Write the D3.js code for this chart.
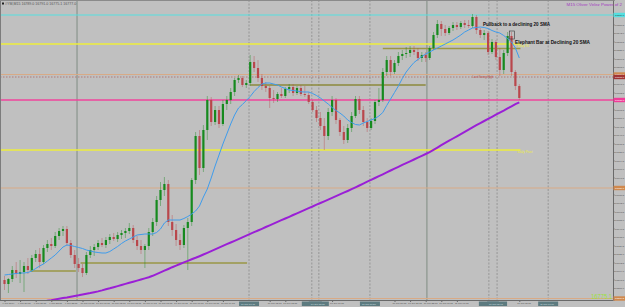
<!DOCTYPE html>
<html>
<head>
<meta charset="utf-8">
<script src="https://cdnjs.cloudflare.com/ajax/libs/d3/7.8.5/d3.min.js"></script>
<style>
  html, body { margin: 0; padding: 0; background: #c0c0c0; }
  svg { display: block; font-family: "Liberation Sans", Arial, sans-serif; }
</style>
</head>
<body>
<svg id="chart" width="625" height="307"></svg>
<script>
// ===== DATA (M15 bars) =====
const barOpen = [
  16595,16591,16596,16605,16601,16603,16609,16605,16617,16621,
  16613,16627,16631,16629,16639,16644,16646,16632,16620,16611,
  16607,16602,16620,16625,16628,16632,16630,16635,16638,16636,
  16640,16642,16644,16647,16635,16629,16625,16629,16643,16653,
  16675,16685,16691,16653,16645,16635,16630,16647,16653,16695,
  16739,16707,16745,16775,16753,16765,16751,16771,16775,16783,
  16795,16797,16790,16792,16813,16807,16797,16789,16787,16777,
  16776,16781,16779,16786,16788,16782,16787,16781,16780,16773,
  16765,16757,16749,16739,16763,16775,16755,16743,16735,16747,
  16759,16776,16765,16753,16747,16754,16773,16775,16803,16815,
  16803,16812,16819,16821,16822,16825,16823,16817,16820,16817,
  16827,16840,16851,16846,16842,16847,16850,16848,16852,16850,
  16849,16858,16845,16840,16842,16823,16833,16818,16805,16822,
  16839,16803,16789
];
const barHigh = [
  16599,16597,16609,16613,16615,16613,16617,16620,16625,16627,
  16630,16635,16637,16643,16647,16649,16649,16635,16625,16617,
  16611,16623,16629,16631,16635,16637,16638,16641,16642,16643,
  16645,16647,16652,16650,16639,16635,16631,16647,16657,16679,
  16693,16698,16695,16660,16651,16641,16650,16657,16697,16743,
  16745,16750,16779,16778,16769,16769,16775,16779,16787,16797,
  16800,16799,16795,16820,16819,16815,16801,16793,16789,16785,
  16783,16787,16788,16791,16791,16789,16790,16789,16783,16775,
  16769,16763,16757,16767,16779,16777,16757,16749,16751,16763,
  16779,16779,16769,16757,16757,16775,16787,16807,16819,16819,
  16815,16823,16825,16828,16829,16829,16827,16823,16823,16829,
  16843,16855,16854,16850,16849,16853,16853,16854,16855,16855,
  16861,16860,16847,16845,16844,16836,16835,16827,16825,16843,
  16843,16805,16791
];
const barLow = [
  16585,16582,16593,16597,16592,16583,16601,16603,16613,16607,
  16611,16623,16625,16627,16635,16639,16629,16617,16607,16603,
  16598,16600,16617,16619,16625,16628,16627,16631,16634,16633,
  16636,16637,16641,16632,16625,16621,16607,16625,16639,16649,
  16669,16679,16649,16639,16629,16625,16627,16605,16649,16691,
  16700,16703,16735,16749,16750,16747,16749,16765,16771,16779,
  16792,16788,16787,16789,16803,16793,16785,16783,16767,16772,
  16773,16777,16777,16782,16779,16780,16779,16778,16771,16763,
  16753,16745,16725,16735,16759,16751,16739,16731,16732,16743,
  16757,16761,16749,16743,16745,16751,16769,16773,16799,16799,
  16801,16809,16815,16817,16818,16820,16814,16813,16813,16815,
  16825,16837,16839,16839,16840,16844,16845,16846,16847,16847,
  16847,16841,16837,16835,16820,16821,16815,16799,16801,16819,
  16799,16785,16775
];
const barClose = [
  16591,16596,16605,16601,16603,16609,16605,16617,16621,16613,
  16627,16631,16629,16639,16644,16646,16632,16620,16611,16607,
  16602,16620,16625,16628,16632,16630,16635,16638,16636,16640,
  16642,16644,16647,16635,16629,16625,16629,16643,16653,16675,
  16685,16691,16653,16645,16635,16630,16647,16653,16695,16739,
  16707,16745,16775,16753,16765,16751,16771,16775,16783,16795,
  16797,16790,16792,16813,16807,16797,16789,16787,16777,16776,
  16781,16779,16786,16788,16782,16787,16781,16780,16773,16765,
  16757,16749,16739,16763,16775,16755,16743,16735,16747,16759,
  16776,16765,16753,16747,16754,16773,16775,16803,16815,16803,
  16812,16819,16821,16822,16825,16823,16817,16820,16817,16827,
  16840,16851,16846,16842,16847,16850,16848,16852,16850,16849,
  16858,16845,16840,16842,16823,16833,16818,16805,16822,16839,
  16803,16789,16777
];
// 20 SMA (blue) and 200 SMA (purple), one value per bar
const sma20 = [
  16600,16600.5,16601,16601.5,16602,16602,16602.5,16604,16606.5,16609,
  16611,16614,16617,16620,16624,16628,16630,16629.5,16628.5,16627.5,
  16626.5,16625,16624,16623,16622.5,16622,16622,16623.5,16626,16628.5,
  16631.5,16634,16636,16638,16640,16640.5,16641,16641,16641,16642.5,
  16646,16652,16655,16655,16655,16655,16656.5,16658.5,16661,16664,
  16669,16678,16686,16697,16709,16720,16731,16741,16751,16760,
  16767,16770.5,16774.5,16778.5,16783.5,16787.5,16791,16792,16792,16791,
  16790,16788,16786.5,16785,16784.5,16784,16783.2,16783,16783,16781.5,
  16779.5,16777,16774,16771,16767.5,16764.5,16762,16759,16755,16752.5,
  16750.5,16750,16752,16753.5,16755,16756.5,16759,16762.5,16769.5,16776,
  16782.5,16789,16796.5,16803,16808,16812.5,16815.5,16818.5,16821,16823,
  16825,16827,16829,16831,16833,16835,16837.5,16840,16843,16845,
  16847,16847.5,16848,16847.5,16846.5,16844.5,16843,16842,16839.5,16836.5,
  16833,16827,16817
];
const sma200 = [
  16563,16564,16565,16566,16567,16568,16569,16570,16571,16572,
  16573,16574.3,16574.8,16575.6,16576.3,16577,16577.6,16578.3,16579,16579.7,
  16580.5,16581.3,16582,16582.8,16583.6,16584.6,16585.7,16586.7,16587.8,16588.9,
  16590,16591.1,16592.2,16593.3,16594.4,16595.5,16596.6,16597.7,16599.2,16600.9,
  16602.6,16604.3,16606,16607.8,16609.4,16611,16612.6,16614.1,16615.7,16617.2,
  16618.8,16620.5,16622.2,16623.9,16625.6,16627.4,16629.1,16630.8,16632.5,16634.2,
  16635.9,16637.7,16639.4,16641.1,16642.8,16644.5,16646.2,16648,16649.7,16651.4,
  16653.1,16654.8,16656.5,16658.2,16660,16661.7,16663.4,16665.1,16666.8,16668.5,
  16670.3,16672,16673.7,16675.4,16677.1,16678.8,16680.6,16682.3,16684,16685.8,
  16687.6,16689.5,16691.4,16693.3,16695.1,16697,16698.9,16700.7,16702.6,16704.5,
  16706.4,16708.2,16710.1,16711.9,16713.7,16715.5,16717.4,16719.2,16721,16722.8,
  16725.1,16727.4,16729.8,16732.1,16734.3,16736.5,16738.7,16740.9,16743.1,16745.3,
  16747.7,16749.8,16751.9,16754,16756.1,16758.2,16760.3,16762.4,16764.4,16766.6,
  16768.7,16770.8,16772.6
];

// price scale labels
const priceTicks = [
  16859.0,16850.5,16842.0,16833.5,16825.0,16816.5,16808.0,16799.5,16791.0,16782.5,
  16774.0,16765.5,16757.0,16748.5,16740.0,16731.5,16723.0,16714.5,16706.0,16697.5,
  16689.0,16680.5,16672.0,16663.5,16655.0,16646.5,16638.0,16629.5,16621.0,16612.5,
  16604.0,16595.5,16587.0,16578.5
];
// time scale labels (bar index + text)
const timeLabelBars = [
  0,4,8,12,16,20,24,28,32,36,40,44,48,52,56,60,64,
  68,72,76,80,84,88,92,96,100,104,108,112,116,120,124,128,132
];
const timeLabels = [
  '9 Jun 2014','9 Jun 20:15','9 Jun 21:15','9 Jun 22:15','9 Jun 23:15','10 Jun 00:15',
  '10 Jun 01:15','10 Jun 02:15','10 Jun 03:15','10 Jun 04:15','10 Jun 05:15','10 Jun 06:15',
  '10 Jun 07:15','10 Jun 08:15','10 Jun 09:15','10 Jun 10:15','10 Jun 11:15','10 Jun 12:15',
  '10 Jun 13:15','10 Jun 14:15','10 Jun 15:15','10 Jun 16:15','10 Jun 17:15','10 Jun 18:15',
  '10 Jun 19:15','10 Jun 20:15','10 Jun 21:15','10 Jun 22:15','11 Jun 00:15','11 Jun 01:15',
  '11 Jun 02:15','11 Jun 03:15','11 Jun 04:15','11 Jun 05:15'
];

// day separators and session lines (bar index)
const daySeparatorBars = [18.6, 108.3];
const sessionLineBars = [62.7, 78.8, 80.6, 93.7, 124.2, 126.3, 139.4];
const sessionLineLabels = ['10 Jun 10:45','10 Jun 14:45','10 Jun 15:15','10 Jun 18:30',
  '11 Jun 03:15','11 Jun 03:45','11 Jun 07:00'];

// horizontal levels: price, first bar, last bar (null = whole chart)
const levelNames = ['cyan','yellowHigh','oliveHigh','tan','tanDotted','oliveMid',
  'pink','yellowLow','orange','oliveLow','oliveLeft','orangeLow'];
const levelPrices = [16860, 16831, 16826.5, 16800.5, 16798, 16790,
  16775, 16725, 16687, 16612, 16604, 16576.5];
const levelFromBar = [null, null, 97, null, null, 63, null, null, null, 19.5, 6.5, null];
const levelToBar = [null, 132.3, 132.3, null, null, 108, null, 132.3, null, 62.2, 18.3, null];
const levelTags = ['', 'Daily R1', '', '', '', '', '', 'Daily Pivot', '', '', '', ''];

// notes written on the chart
const noteTexts = ['Pullback to a declining 20 SMA', 'Elephant Bar at Declining 20 SMA'];
const noteBars = [122.7, 130.9];
const notePrices = [16849.3, 16831.5];
const elephantBar = 130;
const lastSwingText = 'Last Swing High';
const lastQuote = '16775.1';
const symbolTitle = '#YM,M15  16789.0 16791.0 16775.1 16777.0';
const indicatorTitle = 'M15 Oliver Velez Power of 2';

// ===== STYLE =====
const W = 625, H = 307;
const plotRight = 613, plotBottom = 300;
const upColor = '#168a1e', downColor = '#b9474c';
const levelStyle = {
  cyan:       { color: '#55dfe0', width: 1.1, axis: '#55dfe0' },
  yellowHigh: { color: '#eeee3c', width: 1.4 },
  oliveHigh:  { color: '#9a9746', width: 1.4 },
  tan:        { color: '#d8aa86', width: 1, axis: '#d0894e' },
  tanDotted:  { color: '#b06868', width: 0.8, dash: '1.5,1.5', axis: '#a23434' },
  oliveMid:   { color: '#8d8a3c', width: 1.4 },
  pink:       { color: '#f0459c', width: 1.3, axis: '#f03c98' },
  yellowLow:  { color: '#eeee3c', width: 1.4 },
  orange:     { color: '#d8aa86', width: 1, axis: '#d0894e' },
  oliveLow:   { color: '#9a9746', width: 1.4 },
  oliveLeft:  { color: '#9a9746', width: 1.4 },
  orangeLow:  { color: '#d8aa86', width: 1, axis: '#d0894e' }
};
const priceFont = 2.5, timeFont = 2.4;

// ===== SCALES =====
const x = d3.scaleLinear().domain([0, 132]).range([4.5, 519.3]);
const y = d3.scaleLinear().domain([16875, 16575]).range([0, plotBottom]);
const bars = d3.range(barOpen.length);

const svg = d3.select('#chart');
svg.append('rect').attr('width', W).attr('height', H).attr('fill', '#c0c0c0');
svg.append('defs').append('clipPath').attr('id', 'plot')
  .append('rect').attr('x', 1).attr('y', 1).attr('width', plotRight - 1).attr('height', plotBottom - 1);
const plot = svg.append('g').attr('clip-path', 'url(#plot)');

// Draw vertical separators
plot.selectAll('line.day').data(daySeparatorBars).join('line')
  .attr('class', 'day')
  .attr('x1', d => x(d)).attr('x2', d => x(d))
  .attr('y1', 0).attr('y2', plotBottom)
  .attr('stroke', '#98a09a').attr('stroke-width', 1.6);
plot.selectAll('line.session').data(sessionLineBars).join('line')
  .attr('class', 'session')
  .attr('x1', d => x(d)).attr('x2', d => x(d))
  .attr('y1', 0).attr('y2', plotBottom)
  .attr('stroke', '#8c8c8c').attr('stroke-width', 0.8)
  .attr('stroke-dasharray', '2,1.5');

// Draw horizontal levels
levelNames.forEach((name, i) => {
  const st = levelStyle[name];
  const x1 = levelFromBar[i] === null ? 0 : x(levelFromBar[i]);
  const x2 = levelToBar[i] === null ? plotRight : x(levelToBar[i]);
  plot.append('line')
    .attr('x1', x1).attr('x2', x2)
    .attr('y1', y(levelPrices[i])).attr('y2', y(levelPrices[i]))
    .attr('stroke', st.color).attr('stroke-width', st.width)
    .attr('stroke-dasharray', st.dash || null);
  if (levelTags[i]) {
    plot.append('text')
      .attr('x', x2 - 3).attr('y', y(levelPrices[i]) + 3.2)
      .attr('font-size', 3.2).attr('fill', st.color)
      .text(levelTags[i]);
  }
});

// Draw candles
const candles = plot.append('g');
candles.selectAll('line').data(bars).join('line')
  .attr('x1', i => x(i)).attr('x2', i => x(i))
  .attr('y1', i => y(barHigh[i])).attr('y2', i => y(barLow[i]))
  .attr('stroke', i => barClose[i] >= barOpen[i] ? upColor : downColor)
  .attr('stroke-width', 0.6).attr('stroke-opacity', 0.7);
candles.selectAll('rect').data(bars).join('rect')
  .attr('x', i => x(i) - 1.1).attr('width', 2.2)
  .attr('y', i => y(Math.max(barOpen[i], barClose[i])))
  .attr('height', i => Math.max(0.8, Math.abs(y(barOpen[i]) - y(barClose[i]))))
  .attr('fill', i => barClose[i] >= barOpen[i] ? upColor : downColor);

// Draw moving averages
const maLine = d3.line().x((d, i) => x(i)).y(d => y(d));
plot.append('path').datum(sma200).attr('d', maLine)
  .attr('fill', 'none').attr('stroke', '#9a1fd6').attr('stroke-width', 2);
plot.append('path').datum(sma20).attr('d', maLine)
  .attr('fill', 'none').attr('stroke', '#3f9cec').attr('stroke-width', 1);

// Notes
plot.selectAll('text.note').data(noteTexts).join('text')
  .attr('class', 'note')
  .attr('x', (d, i) => x(noteBars[i])).attr('y', (d, i) => y(notePrices[i]))
  .attr('font-size', 5).attr('font-weight', 700).attr('fill', '#111')
  .attr('textLength', (d, i) => i === 0 ? 67 : 75).attr('lengthAdjust', 'spacingAndGlyphs')
  .text(d => d);
plot.append('rect')
  .attr('x', x(elephantBar) - 2.2).attr('width', 5)
  .attr('y', y(barHigh[elephantBar]) - 1).attr('height', 8)
  .attr('fill', 'none').attr('stroke', '#333').attr('stroke-width', 0.6);
plot.append('text')
  .attr('x', x(120)).attr('y', y(16797))
  .attr('font-size', 2.9).attr('fill', '#b84a4a')
  .text(lastSwingText);

// Frame
svg.append('line').attr('x1', 0.5).attr('x2', 0.5).attr('y1', 0).attr('y2', plotBottom)
  .attr('stroke', '#7c7c7c');
svg.append('line').attr('x1', 0).attr('x2', plotRight).attr('y1', 0.5).attr('y2', 0.5)
  .attr('stroke', '#8a8a8a');

// Price axis (tags of the levels hide the plain labels under them)
const tagPrices = levelNames.filter(n => levelStyle[n].axis).map(n => levelPrices[levelNames.indexOf(n)]);
const shownTicks = priceTicks.filter(p => tagPrices.every(t => Math.abs(y(t) - y(p)) > 4.4));
const yAxis = svg.append('g')
  .attr('transform', `translate(${plotRight},0)`)
  .call(d3.axisRight(y).tickValues(shownTicks).tickSize(1.5).tickPadding(0.6)
    .tickFormat(d3.format('.1f')));
yAxis.attr('font-size', priceFont).attr('font-family', null);
yAxis.select('.domain').attr('stroke', '#6a6a6a');
yAxis.selectAll('.tick line').attr('stroke', '#6a6a6a');
yAxis.selectAll('.tick text').attr('fill', '#4e4e4e');

// coloured price tags on the axis
levelNames.forEach((name, i) => {
  const st = levelStyle[name];
  if (!st.axis) return;
  const yy = y(levelPrices[i]);
  svg.append('rect').attr('x', plotRight + 0.5).attr('y', yy - 2.2)
    .attr('width', 11.5).attr('height', 4.4).attr('fill', st.axis);
  svg.append('text').attr('x', plotRight + 2).attr('y', yy + 0.9)
    .attr('font-size', priceFont).attr('fill', name === 'cyan' ? '#333' : '#fff')
    .text(d3.format('.1f')(levelPrices[i]));
});

// Time axis (session line tags cover the labels under them)
const boxLeft = b => x(b) - 10;
const freeBars = timeLabelBars.filter(b =>
  sessionLineBars.every(s => x(b) + 13 < boxLeft(s) || x(b) - 2.5 > boxLeft(s) + 20));
const xAxis = svg.append('g')
  .attr('transform', `translate(0,${plotBottom})`)
  .call(d3.axisBottom(x).tickValues(freeBars).tickSize(2).tickPadding(0.6)
    .tickFormat(d => timeLabels[timeLabelBars.indexOf(d)]));
xAxis.attr('font-size', timeFont).attr('font-family', null);
xAxis.select('.domain').remove();
xAxis.selectAll('.tick line').attr('stroke', '#6a6a6a');
xAxis.selectAll('.tick text').attr('fill', '#4e4e4e').attr('text-anchor', 'start').attr('dx', -2.5);
svg.append('line').attr('x1', 0).attr('x2', plotRight).attr('y1', plotBottom + 0.5).attr('y2', plotBottom + 0.5)
  .attr('stroke', '#6a6a6a');

// tags of the session lines on the time axis; a tag covered by the next one keeps only its box
sessionLineBars.forEach((b, i) => {
  svg.append('rect').attr('x', boxLeft(b)).attr('y', plotBottom + 1.5)
    .attr('width', 20).attr('height', 4.5).attr('fill', '#5d7b80');
  const next = sessionLineBars[i + 1];
  if (next !== undefined && boxLeft(next) < boxLeft(b) + 20) return;
  svg.append('text').attr('x', boxLeft(b) + 2).attr('y', plotBottom + 4.7)
    .attr('font-size', timeFont).attr('fill', '#d4e0e0')
    .text(sessionLineLabels[i]);
});

// Titles
svg.append('rect').attr('x', 2).attr('y', 2.5).attr('width', 2).attr('height', 2).attr('fill', '#222');
svg.append('text').attr('x', 5).attr('y', 5).attr('font-size', 3.6).attr('fill', '#555')
  .text(symbolTitle);
svg.append('text').attr('x', 622).attr('y', 5.5).attr('text-anchor', 'end')
  .attr('font-size', 4.4).attr('fill', '#a43cc0')
  .text(indicatorTitle);
svg.append('text').attr('x', 612).attr('y', 298.5).attr('text-anchor', 'end')
  .attr('font-size', 6.5).attr('fill', '#9be03a')
  .attr('textLength', 21).attr('lengthAdjust', 'spacingAndGlyphs')
  .text(lastQuote);
</script>
</body>
</html>
